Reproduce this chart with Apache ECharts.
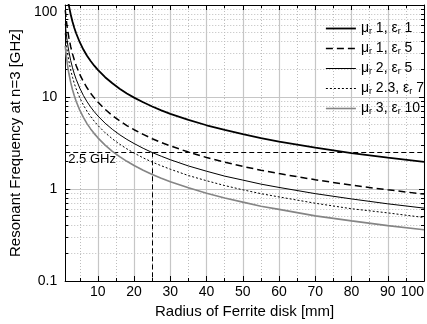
<!DOCTYPE html>
<html><head><meta charset="utf-8">
<script src="https://cdn.jsdelivr.net/npm/echarts@6/dist/echarts.min.js"></script>
<style>html,body{margin:0;padding:0;background:#fff}#c{width:427px;height:324px}</style>
</head><body><div id="c"></div>
<script>
const radius = [1, 1.25, 1.5, 1.75, 2, 2.5, 3, 3.5, 4, 5, 6, 7, 8, 9, 10, 12, 14, 16, 18, 20, 22.5, 25, 27.5, 30, 35, 40, 45, 50, 55, 60, 70, 80, 90, 100];
const freqMu1Eps1 = [197, 157.6, 131.3, 112.6, 98.5, 78.8, 65.7, 56.3, 49.3, 39.4, 32.8, 28.1, 24.6, 21.9, 19.7, 16.4, 14.1, 12.3, 10.9, 9.85, 8.76, 7.88, 7.16, 6.57, 5.63, 4.93, 4.38, 3.94, 3.58, 3.28, 2.81, 2.46, 2.19, 1.97];
const freqMu1Eps5 = [88.1, 70.5, 58.7, 50.3, 44.1, 35.2, 29.4, 25.2, 22.0, 17.6, 14.7, 12.6, 11.0, 9.79, 8.81, 7.34, 6.29, 5.51, 4.89, 4.41, 3.92, 3.52, 3.20, 2.94, 2.52, 2.20, 1.96, 1.76, 1.60, 1.47, 1.26, 1.10, 0.98, 0.88];
const freqMu2Eps5 = [62.3, 49.8, 41.5, 35.6, 31.2, 24.9, 20.8, 17.8, 15.6, 12.5, 10.4, 8.9, 7.79, 6.92, 6.23, 5.19, 4.45, 3.89, 3.46, 3.12, 2.77, 2.49, 2.27, 2.08, 1.78, 1.56, 1.38, 1.25, 1.13, 1.04, 0.89, 0.78, 0.69, 0.62];
const freqMu23Eps7 = [49.1, 39.3, 32.7, 28.1, 24.6, 19.6, 16.4, 14.0, 12.3, 9.82, 8.18, 7.01, 6.14, 5.46, 4.91, 4.09, 3.51, 3.07, 2.73, 2.46, 2.18, 1.96, 1.79, 1.64, 1.40, 1.23, 1.09, 0.98, 0.89, 0.82, 0.70, 0.61, 0.55, 0.49];
const freqMu3Eps10 = [36.0, 28.8, 24.0, 20.6, 18.0, 14.4, 12.0, 10.3, 9.0, 7.2, 6.0, 5.14, 4.5, 4.0, 3.6, 3.0, 2.57, 2.25, 2.0, 1.8, 1.6, 1.44, 1.31, 1.2, 1.03, 0.9, 0.8, 0.72, 0.65, 0.6, 0.51, 0.45, 0.4, 0.36];
const mu = [1, 1, 2, 2.3, 3];
const eps = [1, 5, 5, 7, 10];
const xRange = [1, 100];
const xMajor = [10, 20, 30, 40, 50, 60, 70, 80, 90, 100];
const xMinor = [5, 15, 25, 35, 45, 55, 65, 75, 85, 95];
const yTicks = [0.1, 1, 10, 100];
const refFreq = 2.5;
const refRadius = 25;

const FONT = '"Liberation Sans", Arial, Helvetica, sans-serif';
const allFreq = [freqMu1Eps1, freqMu1Eps5, freqMu2Eps5, freqMu23Eps7, freqMu3Eps10];
const names = mu.map((m, i) => 'μr ' + m + ', εr ' + eps[i]);
const styles = [
  {color: '#000', width: 1.8, type: 'solid'},
  {color: '#000', width: 1.5, type: [7, 4]},
  {color: '#000', width: 1, type: 'solid'},
  {color: '#000', width: 1, type: [2, 2]},
  {color: '#858585', width: 1.6, type: 'solid'}
];
const chart = echarts.init(document.getElementById('c'), null, {renderer: 'canvas'});

const gridMajor = {show: true, lineStyle: {color: '#c6c6c6', width: 1.2, type: 'solid'}};
const gridMinor = {show: true, lineStyle: {color: '#bdbdbd', width: 1, type: [1, 2]}};
function xAx(pos, ticks, len, showLabel, split) {
  return {
    type: 'value', position: pos, min: xRange[0], max: xRange[1],
    axisLine: {show: true, onZero: false, lineStyle: {color: '#000', width: 1}},
    axisTick: {show: true, inside: true, length: len, customValues: ticks, lineStyle: {color: '#000', width: 1}},
    axisLabel: showLabel ? {show: true, customValues: ticks, margin: 4, color: '#000', fontSize: 14, fontFamily: FONT, alignMaxLabel: 'right'} : {show: false},
    splitLine: split || {show: false}
  };
}
function yAx(pos, showLabel, split, minor) {
  return {
    type: 'log', logBase: 10, position: pos, min: yTicks[0], max: yTicks[yTicks.length - 1],
    axisLine: {show: true, onZero: false, lineStyle: {color: '#000', width: 1}},
    axisTick: {show: true, inside: true, length: 5, lineStyle: {color: '#000', width: 1}},
    minorTick: {show: true, splitNumber: 9, length: 3, lineStyle: {color: '#000', width: 1}},
    minorSplitLine: minor ? gridMinor : {show: false},
    axisLabel: showLabel ? {show: true, margin: 8, color: '#000', fontSize: 14, fontFamily: FONT, verticalAlignMaxLabel: 'top'} : {show: false},
    splitLine: split || {show: false}
  };
}

const x0 = xAx('bottom', xMajor, 5, true, gridMajor);
x0.name = 'Radius of Ferrite disk [mm]';
x0.nameLocation = 'middle';
x0.nameGap = 19;
x0.nameTextStyle = {color: '#000', fontSize: 15, fontFamily: FONT};
const y0 = yAx('left', true, gridMajor, true);
y0.name = 'Resonant Frequency at n=3 [GHz]';
y0.nameLocation = 'middle';
y0.nameGap = 38;
y0.nameTextStyle = {color: '#000', fontSize: 15, fontFamily: FONT};

const series = allFreq.map((arr, i) => ({
  name: names[i], type: 'line', xAxisIndex: 0, yAxisIndex: 0,
  data: radius.map((r, j) => [r, arr[j]]),
  symbol: 'none', showSymbol: false, smooth: false,
  lineStyle: styles[i], itemStyle: {color: styles[i].color},
  z: 5 + (5 - i)
}));
series.push({
  name: 'ref', type: 'line', xAxisIndex: 0, yAxisIndex: 0,
  data: [[refRadius, refFreq]], symbol: 'none', lineStyle: {width: 0},
  markLine: {
    silent: true, symbol: ['none', 'none'], animation: false,
    lineStyle: {type: [5, 3], color: '#000', width: 1},
    data: [
      {yAxis: refFreq, label: {show: true, position: 'insideStartBottom', formatter: refFreq + ' GHz', color: '#000', fontSize: 13, fontFamily: FONT, distance: [3, 1]}},
      [{coord: [refRadius, refFreq], label: {show: false}}, {coord: [refRadius, yTicks[0]]}]
    ]
  },
  z: 4
});

chart.setOption({
  animation: false,
  backgroundColor: '#fff',
  grid: {left: 61, right: 2, top: 5, bottom: 43, containLabel: false},
  xAxis: [x0, xAx('bottom', xMinor, 3, false, gridMinor), xAx('top', xMajor, 5, false), xAx('top', xMinor, 3, false)],
  yAxis: [y0, yAx('right', false)],
  legend: {
    show: true, orient: 'vertical', left: 320, top: 16.5,
    itemWidth: 30, itemHeight: 14, itemGap: 5,
    itemStyle: {opacity: 0},
    data: names.map((n, i) => ({name: n, lineStyle: {width: styles[i].width, type: styles[i].type, color: styles[i].color}})),
    textStyle: {color: '#000', fontSize: 14, fontFamily: FONT,
      rich: {m: {fontSize: 14, fontFamily: FONT, color: '#000', lineHeight: 16},
             s: {fontSize: 9, fontFamily: FONT, color: '#000', lineHeight: 9, verticalAlign: 'bottom'}}},
    formatter: function (name) {
      const i = names.indexOf(name);
      return '{m|μ}{s|r}{m| ' + mu[i] + ', ε}{s|r}{m| ' + eps[i] + '}';
    }
  },
  series: series
});
</script></body></html>
